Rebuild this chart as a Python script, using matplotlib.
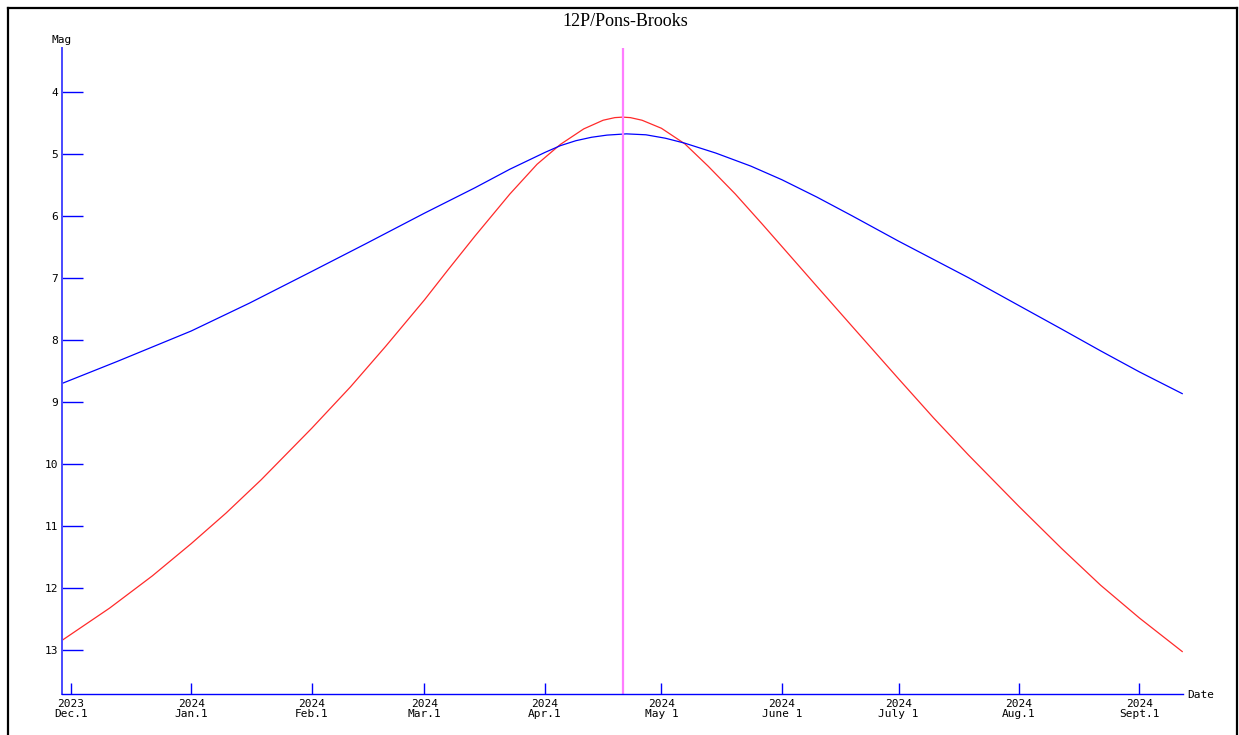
import numpy as np
import matplotlib
matplotlib.use("Agg")
import matplotlib.pyplot as plt
import matplotlib.dates as mdates
from matplotlib.lines import Line2D

# ---------------- data ----------------
title = "12P/Pons-Brooks"

red_dates = ["2023-11-29", "2023-12-11", "2023-12-22", "2024-01-01", "2024-01-10",
             "2024-01-19", "2024-02-01", "2024-02-11", "2024-02-20", "2024-03-01",
             "2024-03-07", "2024-03-14", "2024-03-23", "2024-03-30", "2024-04-05",
             "2024-04-11", "2024-04-16", "2024-04-19", "2024-04-21", "2024-04-23",
             "2024-04-26", "2024-05-01", "2024-05-07", "2024-05-13", "2024-05-20",
             "2024-05-27", "2024-06-03", "2024-06-10", "2024-06-19", "2024-07-01",
             "2024-07-10", "2024-07-19", "2024-08-01", "2024-08-12", "2024-08-22",
             "2024-09-01", "2024-09-12"]
red_mag = [12.83, 12.32, 11.80, 11.28, 10.785,
           10.25, 9.42, 8.75, 8.10, 7.35,
           6.87, 6.32, 5.64, 5.16, 4.84,
           4.59, 4.45, 4.408, 4.40, 4.408,
           4.45, 4.58, 4.83, 5.19, 5.64,
           6.13, 6.63, 7.13, 7.77, 8.62,
           9.25, 9.85, 10.68, 11.36, 11.95,
           12.48, 13.02]

blue_dates = ["2023-11-29", "2023-12-13", "2024-01-01", "2024-01-16", "2024-02-01",
              "2024-02-15", "2024-03-01", "2024-03-14", "2024-03-23", "2024-04-01",
              "2024-04-05", "2024-04-09", "2024-04-13", "2024-04-17", "2024-04-22",
              "2024-04-27", "2024-05-02", "2024-05-07", "2024-05-15", "2024-05-24",
              "2024-06-01", "2024-06-10", "2024-06-19", "2024-07-01", "2024-07-19",
              "2024-08-01", "2024-08-12", "2024-08-22", "2024-09-01", "2024-09-12"]
blue_mag = [8.69, 8.34, 7.85, 7.40, 6.89,
            6.44, 5.95, 5.54, 5.24, 4.97,
            4.86, 4.78, 4.725, 4.69, 4.67,
            4.685, 4.74, 4.82, 4.98, 5.19,
            5.41, 5.69, 5.99, 6.40, 6.99,
            7.44, 7.82, 8.17, 8.51, 8.86]

perihelion_date = "2024-04-21"

tick_dates = ["2023-12-01", "2024-01-01", "2024-02-01", "2024-03-01", "2024-04-01",
              "2024-05-01", "2024-06-01", "2024-07-01", "2024-08-01", "2024-09-01"]
tick_labels = ["2023\nDec.1", "2024\nJan.1", "2024\nFeb.1", "2024\nMar.1", "2024\nApr.1",
               "2024\nMay 1", "2024\nJune 1", "2024\nJuly 1", "2024\nAug.1", "2024\nSept.1"]
mag_ticks = [4, 5, 6, 7, 8, 9, 10, 11, 12, 13]

# ---------------- figure ----------------
W, H = 1239, 735
fig = plt.figure(figsize=(W / 100, H / 100), dpi=100)
fig.patch.set_facecolor("white")

ax_l, ax_r, ax_t, ax_b = 62, 1183, 48, 694
ax = fig.add_axes([ax_l / W, (H - ax_b) / H, (ax_r - ax_l) / W, (ax_b - ax_t) / H])

to_num = lambda ds: mdates.date2num(np.array(ds, dtype="datetime64[D]"))

ax.plot(to_num(red_dates), red_mag, color="#ff2a2a", lw=0.9)
ax.plot(to_num(blue_dates), blue_mag, color="#0000ff", lw=0.9)
ax.axvline(to_num([perihelion_date])[0], color="#ff7dff", lw=1.6)

x0 = to_num(["2023-12-01"])[0] - 2.24
x1 = to_num(["2024-09-01"])[0] + 11.2
ax.set_xlim(x0, x1)
ax.set_ylim(13.705, 3.285)

mono = "DejaVu Sans Mono"
ax.set_xticks(to_num(tick_dates))
ax.set_xticklabels(tick_labels, fontsize=8, family=mono, linespacing=1.0)
ax.set_yticks(mag_ticks)
ax.set_yticklabels([str(m) for m in mag_ticks], fontsize=8, family=mono)

ax.tick_params(axis="x", direction="in", length=8, width=1.0, color="#0000ff", pad=3.5)
ax.tick_params(axis="y", direction="in", length=15, width=1.0, color="#0000ff", pad=3)

for s in ("top", "right"):
    ax.spines[s].set_visible(False)
ax.spines["left"].set_color("#4a4aff")
ax.spines["left"].set_linewidth(1.4)
ax.spines["bottom"].set_color("#0000ff")
ax.spines["bottom"].set_linewidth(1.0)
ax.set_facecolor("white")

fig.text(625 / W, 1 - 21 / H, title, ha="center", va="center",
         family="Liberation Serif", fontsize=13)
fig.text(62 / W, 1 - 40 / H, "Mag", ha="center", va="center", family=mono, fontsize=8)
fig.text(1187 / W, 1 - 695 / H, "Date", ha="left", va="center", family=mono, fontsize=8)

# outer frame
fr = dict(color="black", lw=1.6, transform=fig.transFigure)
fig.lines.append(Line2D([7.5 / W, 7.5 / W], [0, 1 - 8 / H], **fr))
fig.lines.append(Line2D([7.5 / W, 1236.5 / W], [1 - 8 / H, 1 - 8 / H], **fr))
fig.lines.append(Line2D([1236.5 / W, 1236.5 / W], [0, 1 - 8 / H], **fr))

fig.savefig("out.png", dpi=100)
